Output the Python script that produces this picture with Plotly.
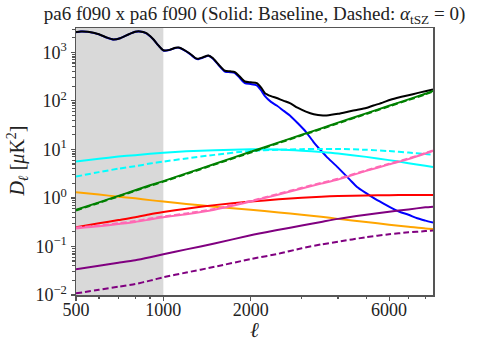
import plotly.graph_objects as go

# ---------------- data ----------------
ell_fg = [500, 600, 700, 800, 900, 1000, 1200, 1500, 2000, 2500, 3000, 3500,
          4000, 5000, 6000, 7000, 8000, 8500]

green_solid = [0.57, 0.81, 1.10, 1.44, 1.82, 2.22, 3.2, 5.0, 8.9, 13.9, 20, 27,
               35.5, 55, 79, 107, 140, 160]
green_dash = [0.55, 0.79, 1.07, 1.40, 1.77, 2.16, 3.1, 4.85, 8.6, 13.5, 19.4, 26.2,
              34.4, 53.5, 77, 104, 136, 155]
cyan_solid = [5.6, 6.4, 7.1, 7.6, 8.1, 8.5, 9.1, 9.6, 10.0, 9.9, 9.4, 8.8,
              8.2, 7.0, 6.0, 5.2, 4.6, 4.35]
cyan_dash = [2.75, 3.4, 4.0, 4.5, 5.1, 5.6, 6.5, 7.7, 9.3, 9.8, 10.1, 10.2,
             10.2, 9.8, 9.2, 8.6, 8.0, 7.8]
orange_solid = [1.31, 1.17, 1.06, 0.98, 0.90, 0.84, 0.75, 0.66, 0.57, 0.50, 0.45, 0.41,
                0.37, 0.32, 0.28, 0.255, 0.235, 0.23]
red_solid = [0.25, 0.30, 0.35, 0.40, 0.46, 0.51, 0.60, 0.71, 0.84, 0.94, 1.01, 1.06,
             1.09, 1.12, 1.14, 1.15, 1.15, 1.15]
pink_solid = [0.235, 0.26, 0.29, 0.32, 0.36, 0.40, 0.46, 0.57, 0.84, 1.18, 1.56, 1.97,
              2.4, 3.6, 4.9, 6.3, 8.2, 9.3]
pink_dash = [0.245, 0.27, 0.30, 0.333, 0.375, 0.415, 0.48, 0.59, 0.87, 1.22, 1.62, 2.04,
             2.48, 3.7, 5.05, 6.5, 8.4, 9.5]
purple_solid = [0.034, 0.040, 0.046, 0.052, 0.060, 0.069, 0.087, 0.115, 0.17, 0.22, 0.27, 0.32,
                0.37, 0.45, 0.52, 0.58, 0.64, 0.66]
purple_dash = [0.0108, 0.0128, 0.0148, 0.0168, 0.0198, 0.0232, 0.029, 0.038, 0.055, 0.071, 0.092, 0.11,
               0.125, 0.155, 0.178, 0.195, 0.207, 0.212]

ell_cmb = [500, 520, 550, 600, 640, 672, 710, 760, 800, 830, 870, 920, 960, 1000,
           1050, 1100, 1130, 1170, 1237, 1290, 1320, 1370, 1430, 1480, 1550, 1630,
           1700, 1765, 1830, 1910, 2000, 2100, 2170, 2240, 2350, 2460, 2600, 2730,
           2900, 3100, 3300, 3550, 3650, 4000, 4400, 4640, 5000, 5300, 5700, 6060,
           6520, 7000, 7500, 8000, 8500]
total = [2600, 2680, 2640, 2350, 2000, 1840, 1950, 2350, 2650, 2690, 2500, 1900, 1400, 1100,
         1120, 1240, 1255, 1150, 930, 760, 735, 790, 860, 760, 560, 416,
         405, 391, 320, 250, 240, 232, 190, 144, 125, 114, 100, 90,
         72, 60, 53, 50, 50, 54, 61, 65, 71, 80, 92, 105,
         118, 130, 144, 158, 172]
cmb = [2592, 2672, 2632, 2342, 1992, 1832, 1942, 2342, 2641, 2681, 2491, 1891, 1390, 1089,
       1109, 1228, 1243, 1138, 918, 748, 722, 777, 846, 746, 545, 400,
       388, 373, 300, 232, 222, 208, 165, 125, 95, 80, 62, 50,
       35, 23, 14, 8.5, 7.1, 4.2, 2.35, 1.7, 1.25, 1.0, 0.78, 0.64,
       0.52, 0.45, 0.38, 0.34, 0.31]

x_ticks = [500, 1000, 2000, 6000]
x_ticktext = ["500", "1000", "2000", "6000"]
x_minor = [600, 700, 800, 900, 3000, 4000, 5000, 7000, 8000]
y_ticks = [1e-2, 1e-1, 1e0, 1e1, 1e2, 1e3]
y_ticktext = ["10<sup>−2</sup>", "10<sup>−1</sup>", "10<sup>0</sup>",
              "10<sup>1</sup>", "10<sup>2</sup>", "10<sup>3</sup>"]
y_minor = [m * 10 ** e for e in range(-2, 4) for m in range(2, 10)]
masked_range = [500, 1000]

FONT = "Liberation Serif"
DASH = "6px,3px"

fig = go.Figure()

def add(x, y, color, dash=None, width=2):
    fig.add_trace(go.Scatter(
        x=x, y=y, mode="lines",
        line=dict(color=color, width=width, dash=dash or "solid", shape="spline", smoothing=0.6),
        hoverinfo="skip", showlegend=False))

add(ell_cmb, cmb, "#0000ff")
add(ell_cmb, total, "#000000")
add(ell_fg, cyan_solid, "#00ffff")
add(ell_fg, cyan_dash, "#00ffff", DASH)
add(ell_fg, orange_solid, "#ffa500")
add(ell_fg, red_solid, "#ff0000")
add(ell_fg, pink_solid, "#ff69b4")
add(ell_fg, pink_dash, "#ff69b4", DASH)
add(ell_fg, purple_solid, "#800080")
add(ell_fg, purple_dash, "#800080", DASH)
add(ell_fg, green_solid, "#008000")
add(ell_fg, green_dash, "#008000", DASH)

fig.add_shape(type="rect", xref="x", yref="paper",
              x0=masked_range[0], x1=masked_range[1], y0=0, y1=1,
              fillcolor="#d9d9d9", line=dict(width=0), layer="below")

axis_common = dict(
    showgrid=False, zeroline=False, showline=True, linecolor="#555555",
    linewidth=1.5, mirror=True, ticks="outside", tickcolor="#555555",
    ticklen=4, tickwidth=1.2, automargin=False,
    tickfont=dict(family=FONT, size=18, color="#222222"),
)

fig.update_xaxes(
    type="log", range=[2.69897, 3.92942],
    tickmode="array", tickvals=x_ticks, ticktext=x_ticktext,
    ticklabelstandoff=-6,
    minor=dict(tickmode="array", tickvals=x_minor, ticks="outside", ticklen=2.5,
               tickcolor="#555555", showgrid=False),
    **axis_common)
fig.update_yaxes(
    type="log", range=[-2, 3.5],
    tickmode="array", tickvals=y_ticks, ticktext=y_ticktext,
    minor=dict(tickmode="array", tickvals=y_minor, ticks="outside", ticklen=2.5,
               tickcolor="#555555", showgrid=False),
    **axis_common)

fig.add_annotation(text="<i>ℓ</i>", xref="paper", yref="paper", x=0.5, y=-0.131,
                   xanchor="center", yanchor="middle", showarrow=False,
                   font=dict(family=FONT, size=21, color="#222222"))
fig.add_annotation(text="<i>D</i><sub><i>ℓ</i></sub> [<i>μ</i>K<sup>2</sup>]",
                   xref="paper", yref="paper", x=-0.165, y=0.5, textangle=-90,
                   xanchor="center", yanchor="middle", showarrow=False,
                   font=dict(family=FONT, size=20, color="#222222"))

fig.update_layout(
    width=486, height=349,
    margin=dict(l=76, r=53, t=28, b=54, autoexpand=False),
    paper_bgcolor="white", plot_bgcolor="white",
    title=dict(text="pa6 f090 x pa6 f090 (Solid: Baseline, Dashed: <i>α</i><sub>tSZ</sub> = 0)",
               font=dict(family=FONT, size=19, color="#222222"),
               x=0.5, xref="paper", xanchor="center", y=0.962, yanchor="middle"),
    showlegend=False,
)

fig.write_html("out.html",
               config={"displayModeBar": False, "staticPlot": True},
               post_script="document.body.style.margin='0';document.body.style.overflow='hidden';")
